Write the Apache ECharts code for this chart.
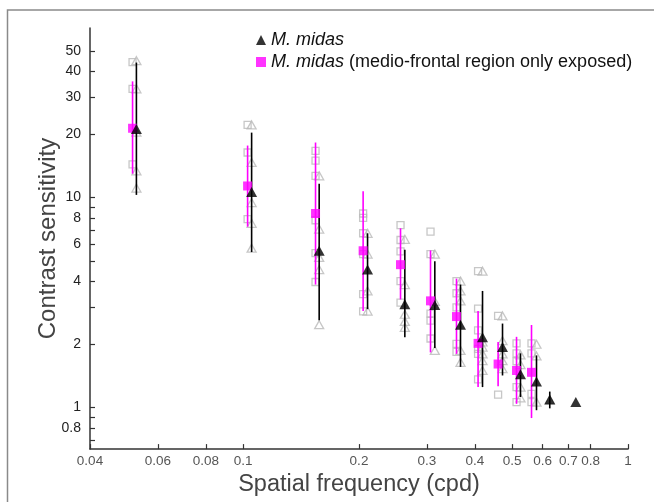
<!DOCTYPE html>
<html>
<head>
<meta charset="utf-8">
<script src="https://cdn.jsdelivr.net/npm/echarts@6/dist/echarts.min.js"></script>
<style>
html,body{margin:0;padding:0;background:#fff;}
#chart{width:654px;height:502px;}
</style>
</head>
<body>
<div id="chart"></div>
<script>
// ---- Data ----
// Tick positions and labels
const xTicks = [0.04, 0.06, 0.08, 0.1, 0.2, 0.3, 0.4, 0.5, 0.6, 0.7, 0.8, 1];
const xLabels = [0.04, 0.06, 0.08, 0.1, 0.2, 0.3, 0.4, 0.5, 0.6, 0.7, 0.8, 1];
const yTicks = [0.7, 0.8, 0.9, 1, 2, 3, 4, 5, 6, 7, 8, 9, 10, 20, 30, 40, 50];
const yLabels = [0.8, 1, 2, 4, 6, 8, 10, 20, 30, 40, 50];

// M. midas (black triangles): spatial frequency, mean, error bar low/high
const midasX  = [0.0528, 0.1052, 0.1576, 0.2105, 0.2631, 0.3148, 0.3671, 0.4188, 0.4720, 0.5256, 0.5784, 0.6262, 0.7318];
const midasY  = [21.2, 10.64, 5.58, 4.54, 3.10, 3.08, 2.48, 2.16, 1.94, 1.44, 1.33, 1.09, 1.06];
const midasLo = [10.3, 5.50, 2.60, 2.94, 2.16, 1.92, 1.56, 1.25, 1.42, 1.12, 0.97, 0.99, null];
const midasHi = [44.0, 20.4, 11.65, 6.76, 5.64, 4.97, 3.85, 3.59, 2.51, 1.81, 1.77, 1.19, null];

// M. midas, medio-frontal region only exposed (magenta squares)
const mfX  = [0.0516, 0.1027, 0.1542, 0.2050, 0.2564, 0.3068, 0.3584, 0.4078, 0.4597, 0.5133, 0.5614];
const mfY  = [21.4, 11.36, 8.40, 5.58, 4.79, 3.22, 2.71, 2.02, 1.61, 1.50, 1.47];
const mfLo = [13.0, 7.27, 3.85, 2.88, 3.27, 1.83, 1.80, 1.25, 1.26, 1.04, 0.89];
const mfHi = [35.8, 17.7, 18.3, 10.71, 7.14, 5.60, 4.11, 2.88, 2.05, 2.17, 2.47];

// Individual values (grey open triangles: M. midas; grey open squares: medio-frontal)
const midasInd = [
  [44.9, 33.0, 20.5, 13.4, 11.1],
  [22.2, 14.7, 9.47, 7.54, 5.74],
  [12.7, 7.08, 5.19, 4.54, 2.48],
  [6.76, 5.38, 3.59, 2.88],
  [6.33, 3.85, 2.78, 2.57, 2.41],
  [5.38, 3.2, 1.87],
  [4.0, 3.59, 3.22, 1.87, 1.64],
  [4.46, 2.05, 1.94, 1.80, 1.67, 1.50],
  [2.73, 2.08, 1.80, 1.67, 1.53],
  [1.78, 1.60, 1.25, 1.11],
  [2.0, 1.76, 1.06],
  [1.09],
  []
];
const mfInd = [
  [44.2, 33.0, 14.4],
  [22.2, 16.4, 7.9],
  [16.7, 15.0, 12.7, 7.8, 5.44, 3.96],
  [8.4, 8.0, 6.76, 5.38, 3.47, 2.87],
  [7.40, 6.28, 5.54, 4.00, 3.16],
  [6.89, 5.38, 2.80, 2.59, 2.13],
  [4.0, 3.5, 3.0, 2.01, 1.84],
  [4.46, 2.96, 2.33, 1.90, 1.80, 1.36],
  [2.73, 1.15],
  [2.02, 1.81, 1.66, 1.25, 1.06],
  [2.02, 1.81, 1.16, 1.06]
];

const nameMidas = 'M. midas';
const nameMF = 'M. midas (medio-frontal region only exposed)';

// ---- Build series data ----
const midasPts = midasX.map((x, i) => [x, midasY[i]]);
const mfPts = mfX.map((x, i) => [x, mfY[i]]);
const midasBars = midasX.map((x, i) => [x, midasLo[i], midasHi[i]]).filter(d => d[1] != null);
const mfBars = mfX.map((x, i) => [x, mfLo[i], mfHi[i]]).filter(d => d[1] != null);
const midasIndPts = [];
midasInd.forEach((arr, i) => arr.forEach(v => midasIndPts.push([midasX[i], v])));
const mfIndPts = [];
mfInd.forEach((arr, i) => arr.forEach(v => mfIndPts.push([mfX[i], v])));

function barRenderer(color) {
  return function (params, api) {
    const x = api.value(0);
    const p1 = api.coord([x, api.value(1)]);
    const p2 = api.coord([x, api.value(2)]);
    return {
      type: 'line',
      shape: { x1: p1[0], y1: p1[1], x2: p2[0], y2: p2[1] },
      style: { stroke: color, lineWidth: 1.6 }
    };
  };
}

const fmt = v => String(+Number(v).toPrecision(3));
const grey = '#b9b9b9';

const chart = echarts.init(document.getElementById('chart'), null, { renderer: 'canvas' });
chart.setOption({
  animation: false,
  backgroundColor: '#fff',
  textStyle: { fontFamily: 'Liberation Sans, Arial, sans-serif' },
  graphic: [{
    type: 'rect',
    shape: { x: 7.5, y: 10, width: 800, height: 700 },
    style: { fill: 'none', stroke: '#8a8a8a', lineWidth: 1.5 },
    silent: true, z: -10
  }],
  grid: { left: 90, right: 26, top: 28, bottom: 50, containLabel: false },
  legend: {
    orient: 'vertical',
    left: 251,
    top: 26,
    itemGap: 4,
    itemWidth: 10,
    itemHeight: 10,
    data: [
      { name: nameMidas, icon: 'triangle' },
      { name: nameMF, icon: 'rect' }
    ],
    formatter: function (name) {
      if (name === nameMidas) return '{i|M. midas}';
      return '{i|M. midas} (medio-frontal region only exposed)';
    },
    textStyle: {
      fontSize: 18, color: '#111', fontFamily: 'Liberation Sans, Arial, sans-serif',
      rich: { i: { fontStyle: 'italic', fontSize: 18, color: '#111', fontFamily: 'Liberation Sans, Arial, sans-serif' } }
    },
    selectedMode: false
  },
  xAxis: {
    type: 'log', logBase: 10, min: 0.04, max: 1,
    name: 'Spatial frequency (cpd)', nameLocation: 'middle', nameGap: 13,
    nameTextStyle: { fontSize: 23.5, color: '#444', verticalAlign: 'top' },
    axisLine: { lineStyle: { color: '#333', width: 1.5 } },
    axisTick: { inside: true, length: 5, customValues: xTicks, lineStyle: { color: '#333', width: 1.2 } },
    minorTick: { show: false },
    axisLabel: { customValues: xLabels, formatter: fmt, fontSize: 13.5, color: '#555', margin: 5 },
    splitLine: { show: false }
  },
  yAxis: {
    type: 'log', logBase: 10, min: 0.633, max: 64.3,
    name: 'Contrast sensitivity', nameLocation: 'middle', nameGap: 30,
    nameMoveOverlap: false,
    nameTextStyle: { fontSize: 24, color: '#444' },
    axisLine: { lineStyle: { color: '#333', width: 1.5 } },
    axisTick: { inside: true, length: 5, customValues: yTicks, lineStyle: { color: '#333', width: 1.2 } },
    minorTick: { show: false },
    axisLabel: { customValues: yLabels, formatter: fmt, fontSize: 14, color: '#222', margin: 9 },
    splitLine: { show: false }
  },
  series: [
    {
      name: 'M. midas (individual)', type: 'scatter', data: midasIndPts,
      symbol: 'triangle', symbolSize: [9, 8], z: 1,
      itemStyle: { color: 'rgba(0,0,0,0)', borderColor: grey, borderWidth: 1.3 }
    },
    {
      name: 'Medio-frontal (individual)', type: 'scatter', data: mfIndPts,
      symbol: 'rect', symbolSize: [7, 7], z: 1,
      itemStyle: { color: 'rgba(0,0,0,0)', borderColor: grey, borderWidth: 1.3 }
    },
    {
      name: 'mf bars', type: 'custom', data: mfBars, z: 2,
      encode: { x: 0, y: [1, 2] }, renderItem: barRenderer('#ff00ff')
    },
    {
      name: 'midas bars', type: 'custom', data: midasBars, z: 3,
      encode: { x: 0, y: [1, 2] }, renderItem: barRenderer('#000000')
    },
    {
      name: nameMF, type: 'scatter', data: mfPts, z: 4,
      symbol: 'rect', symbolSize: [9, 9],
      itemStyle: { color: '#ff00ff' }
    },
    {
      name: nameMidas, type: 'scatter', data: midasPts, z: 5,
      symbol: 'triangle', symbolSize: [11, 10],
      itemStyle: { color: '#000000' }
    }
  ]
});
</script>
</body>
</html>
